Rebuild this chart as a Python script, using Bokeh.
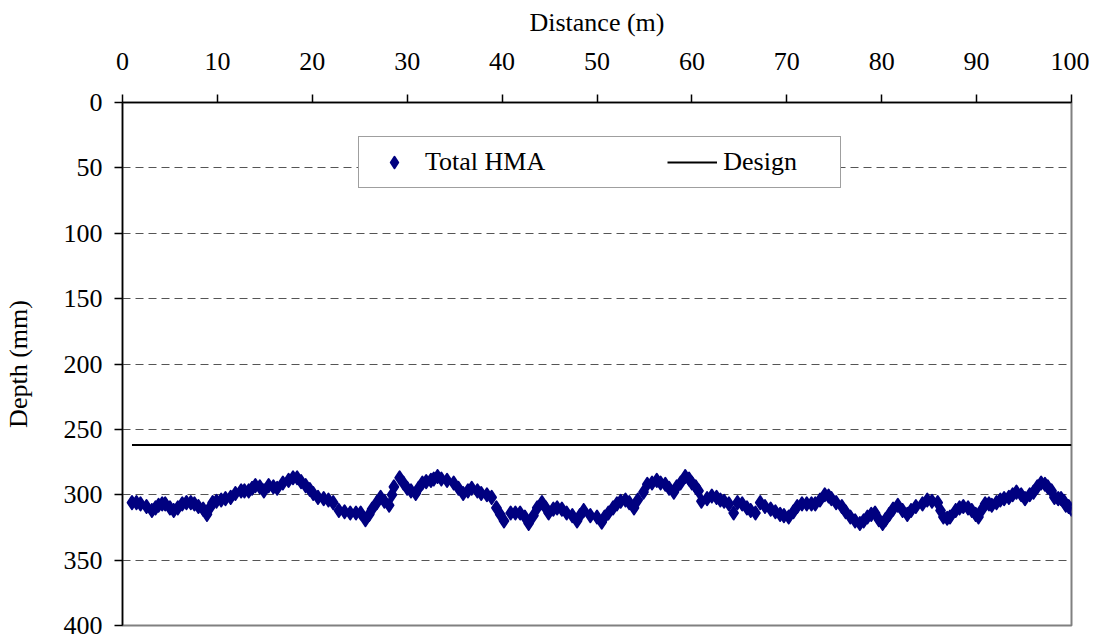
from bokeh.plotting import figure
from bokeh.models import Range1d, FixedTicker, Legend, LegendItem
from bokeh.embed import file_html
from bokeh.resources import INLINE

# Data (distance in m, total HMA depth in mm)
distance = [1.0, 1.47, 1.9, 2.53, 3.1, 3.48, 3.8, 4.18, 4.5, 5.0,
            5.4, 5.83, 6.3, 6.74, 7.2, 7.58, 8.0, 8.5, 8.9, 9.2,
            9.5, 9.9, 10.4, 10.85, 11.4, 11.9, 12.5, 12.85, 13.3, 13.66,
            14.0, 14.47, 14.9, 15.4, 15.9, 16.3, 16.9, 17.5, 17.97, 18.4,
            18.82, 19.3, 19.74, 20.1, 20.6, 21.2, 21.7, 22.2, 22.8, 23.4,
            24.0, 24.6, 25.1, 25.6, 26.0, 26.3, 26.8, 27.2, 27.6, 28.1,
            28.4, 28.6, 29.2, 29.6, 30.0, 30.4, 30.9, 31.2, 31.6, 32.0,
            32.5, 32.8, 33.2, 33.6, 34.2, 34.9, 35.4, 35.9, 36.4, 36.8,
            37.4, 37.8, 38.4, 38.9, 39.4, 39.8, 40.2, 40.9, 41.4, 41.9,
            42.4, 42.8, 43.3, 43.7, 44.2, 44.6, 44.9, 45.4, 45.8, 46.3,
            46.8, 47.4, 47.9, 48.2, 48.6, 49.3, 50.0, 50.5, 50.8, 51.2,
            51.7, 52.1, 52.5, 53.0, 53.4, 53.9, 54.3, 54.9, 55.3, 55.8,
            56.3, 56.7, 57.2, 57.6, 58.1, 58.4, 58.8, 59.3, 59.7, 60.0,
            60.4, 60.7, 61.0, 61.6, 62.1, 62.6, 63.0, 63.4, 63.9, 64.4,
            64.8, 65.3, 65.8, 66.2, 66.7, 67.2, 67.7, 68.3, 68.8, 69.3,
            69.7, 70.2, 70.7, 71.1, 71.6, 72.1, 72.6, 73.0, 73.5, 74.0,
            74.4, 74.7, 75.2, 75.8, 76.2, 76.7, 77.2, 77.7, 78.1, 78.5,
            78.9, 79.3, 79.7, 80.1, 80.4, 80.8, 81.2, 81.7, 82.2, 82.7,
            83.1, 83.6, 84.3, 84.8, 85.3, 85.9, 86.2, 86.5, 86.9, 87.2,
            87.8, 88.2, 88.6, 89.1, 89.5, 89.9, 90.2, 90.6, 90.9, 91.3,
            91.6, 92.1, 92.5, 92.9, 93.4, 93.8, 94.2, 94.7, 95.1, 95.6,
            96.0, 96.4, 96.8, 97.2, 97.5, 97.9, 98.2, 98.6, 98.9, 99.2,
            99.4, 99.7, 100.0]
total_hma = [306, 306, 307, 309, 312, 310, 308, 307, 307, 310,
             312, 310, 307, 306, 306, 307, 309, 311, 315, 310,
             306, 305, 304, 303, 302, 299, 297, 297, 297, 295,
             293, 294, 297, 293, 294, 295, 291, 289, 287, 287,
             290, 293, 296, 299, 302, 303, 304, 306, 312, 313,
             314, 314, 314, 319, 315, 311, 306, 302, 305, 308,
             300, 294, 287, 291, 295, 297, 299, 295, 291, 290,
             289, 288, 286, 288, 289, 291, 295, 299, 297, 295,
             297, 299, 300, 302, 310, 315, 320, 314, 314, 314,
             317, 322, 316, 310, 306, 310, 314, 311, 310, 311,
             314, 316, 320, 316, 312, 316, 317, 321, 317, 314,
             310, 307, 305, 304, 306, 310, 304, 298, 292, 291,
             289, 291, 292, 295, 298, 294, 291, 286, 288, 291,
             294, 297, 305, 303, 301, 302, 304, 305, 307, 314,
             306, 307, 310, 312, 314, 306, 309, 311, 313, 315,
             316, 317, 313, 309, 307, 307, 307, 307, 304, 300,
             301, 303, 306, 309, 313, 317, 320, 322, 320, 317,
             315, 314, 319, 322, 319, 315, 311, 308, 312, 315,
             312, 309, 307, 304, 305, 306, 312, 317, 318, 317,
             312, 310, 309, 310, 312, 315, 317, 311, 307, 307,
             308, 306, 304, 303, 302, 300, 298, 300, 303, 300,
             298, 294, 291, 292, 294, 297, 302, 303, 303, 305,
             308, 309, 311]
design_distance = [1, 100]
design_depth = [262, 262]
x_ticks = [0, 10, 20, 30, 40, 50, 60, 70, 80, 90, 100]
y_ticks = [0, 50, 100, 150, 200, 250, 300, 350, 400]

FONT = "Liberation Serif"

p = figure(width=1089, height=634,
           x_range=Range1d(0, 100), y_range=Range1d(400, 0),
           x_axis_location="above",
           output_backend="svg", toolbar_location=None,
           min_border_left=122, min_border_right=18,
           min_border_top=102, min_border_bottom=9)

p.background_fill_color = "white"
p.border_fill_color = "white"
p.outline_line_color = "#808080"
p.outline_line_width = 2

# grid
p.xgrid.visible = False
p.ygrid.grid_line_color = "#555555"
p.ygrid.grid_line_dash = "8 5"
p.ygrid.grid_line_width = 1

# axes
p.xaxis.ticker = FixedTicker(ticks=x_ticks)
p.yaxis.ticker = FixedTicker(ticks=y_ticks)
for ax in (p.xaxis[0], p.yaxis[0]):
    ax.axis_line_color = "black"
    ax.axis_line_width = 1.5
    ax.major_tick_line_color = "black"
    ax.major_tick_line_width = 1.5
    ax.major_tick_in = 0
    ax.major_tick_out = 8
    ax.minor_tick_line_color = None
    ax.major_label_text_font = FONT
    ax.major_label_text_font_size = "26px"
    ax.major_label_text_color = "black"
    ax.axis_label_text_font = FONT
    ax.axis_label_text_font_size = "26px"
    ax.axis_label_text_font_style = "normal"
    ax.axis_label_text_color = "black"

p.xaxis.axis_label = "Distance (m)"
p.yaxis.axis_label = "Depth (mm)"
p.xaxis.major_label_standoff = 25
p.yaxis.major_label_standoff = 12
p.xaxis.axis_label_standoff = 13
p.yaxis.axis_label_standoff = 28

r1 = p.scatter(distance, total_hma, marker="diamond", size=13,
               fill_color="#000080", line_color="#000080", line_width=2,
               line_join="round")
r2 = p.line(design_distance, design_depth, line_color="black", line_width=2)

legend = Legend(items=[LegendItem(label="Total HMA", renderers=[r1]),
                       LegendItem(label="Design", renderers=[r2])],
                orientation="horizontal", location=(236, 437),
                padding=10, spacing=122, label_width=107, label_height=28,
                glyph_width=50, glyph_height=28, label_standoff=6,
                label_text_font=FONT, label_text_font_size="26px",
                label_text_color="black",
                border_line_color="#404040", border_line_width=1,
                background_fill_color="white", background_fill_alpha=1.0,
                margin=0)
p.add_layout(legend)

open("out.html", "w").write(file_html(p, INLINE))
